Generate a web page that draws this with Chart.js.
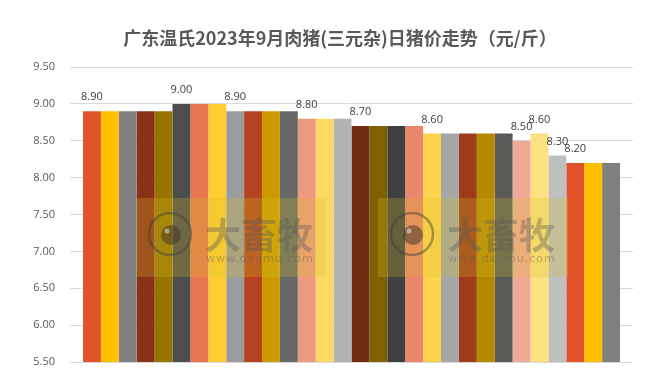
<!DOCTYPE html>
<html>
<head>
<meta charset="utf-8">
<script src="https://cdn.jsdelivr.net/npm/chart.js@4.4.0/dist/chart.umd.min.js"></script>
<style>
html,body{margin:0;padding:0;background:#fff;}
#wrap{width:655px;height:384px;position:relative;}
</style>
</head>
<body>
<div id="wrap"><canvas id="c" width="655" height="384"></canvas></div>
<script>
const titleText = '广东温氏2023年9月肉猪(三元杂)日猪价走势（元/斤）';
const days = ['1日','2日','3日','4日','5日','6日','7日','8日','9日','10日','11日','12日','13日','14日','15日','16日','17日','18日','19日','20日','21日','22日','23日','24日','25日','26日','27日','28日','29日','30日'];
const prices = [8.90,8.90,8.90,8.90,8.90,9.00,9.00,9.00,8.90,8.90,8.90,8.90,8.80,8.80,8.80,8.70,8.70,8.70,8.70,8.60,8.60,8.60,8.60,8.60,8.50,8.60,8.30,8.20,8.20,8.20];
const yTicks = [5.50,6.00,6.50,7.00,7.50,8.00,8.50,9.00,9.50];
const barColors = [
  '#E0542A','#FFC000','#808080',
  '#8A3218','#997300','#4D4D4D',
  '#E87651','#FFCC33','#9C9C9C',
  '#B5431F','#CC9A00','#686868',
  '#EE9A7F','#FFD966','#B3B3B3',
  '#712B15','#806000','#404040',
  '#EA866A','#FFD34D','#A6A6A6',
  '#9E3B1A','#B68800','#5A5A5A',
  '#EFA994','#FFE080','#BFBFBF',
  '#E0542A','#FFC000','#808080'
];

const datasets = days.map((d, i) => ({
  label: d,
  data: [prices[i]],
  backgroundColor: barColors[i],
  borderWidth: 0,
  categoryPercentage: 537/563,
  barPercentage: 1.0
}));

const titlePlugin = {
  id: 'titleP',
  afterDraw(chart) {
    const ctx = chart.ctx;
    ctx.save();
    ctx.font = 'bold 18px "Noto Sans CJK SC"';
    ctx.fillStyle = '#595959';
    ctx.textAlign = 'center';
    ctx.textBaseline = 'middle';
    ctx.fillText(titleText, 340, 38);
    ctx.restore();
  }
};

const watermarkPlugin = {
  id: 'wm',
  afterDatasetsDraw(chart) {
    const ctx = chart.ctx;
    [0, 242].forEach(dx => {
      ctx.save();
      ctx.fillStyle = 'rgba(215,190,40,0.25)';
      ctx.fillRect(136 + dx, 198, 190, 79);
      // logo circle
      ctx.beginPath();
      ctx.arc(170 + dx, 234, 21, 0, Math.PI * 2);
      ctx.strokeStyle = 'rgba(60,60,60,0.45)';
      ctx.lineWidth = 2.5;
      ctx.stroke();
      ctx.beginPath();
      ctx.arc(171 + dx, 235, 10, 0, Math.PI * 2);
      ctx.fillStyle = 'rgba(60,50,40,0.5)';
      ctx.fill();
      ctx.beginPath();
      ctx.arc(167 + dx, 231, 2.5, 0, Math.PI * 2);
      ctx.fillStyle = 'rgba(255,255,255,0.45)';
      ctx.fill();
      // text
      ctx.fillStyle = 'rgba(90,90,90,0.38)';
      ctx.font = 'bold 36px "Noto Sans CJK SC"';
      ctx.textAlign = 'left';
      ctx.textBaseline = 'middle';
      ctx.fillText('大畜牧', 205 + dx, 235);
      ctx.font = '11px "DejaVu Sans"';
      ctx.letterSpacing = '1px';
      ctx.fillText('www.dxumu.com', 206 + dx, 259);
      ctx.restore();
    });
  }
};

const labelPlugin = {
  id: 'labels',
  afterDraw(chart) {
    const ctx = chart.ctx;
    ctx.save();
    ctx.font = '11px "Open Sans"';
    ctx.fillStyle = '#404040';
    ctx.textAlign = 'center';
    ctx.textBaseline = 'middle';
    prices.forEach((v, i) => {
      if (i === 0 || v !== prices[i - 1]) {
        const el = chart.getDatasetMeta(i).data[0];
        ctx.fillText(v.toFixed(2), el.x, el.y - 14);
      }
    });
    ctx.restore();
  }
};

new Chart(document.getElementById('c'), {
  type: 'bar',
  data: { labels: ['2023年9月'], datasets },
  options: {
    responsive: false,
    animation: false,
    devicePixelRatio: 1,
    layout: { padding: { left: 0, right: 22, top: 67, bottom: 22 } },
    plugins: { legend: { display: false }, tooltip: { enabled: false }, title: { display: false } },
    scales: {
      x: { display: false, offset: true },
      y: {
        min: 5.5, max: 9.5,
        afterFit(scale) { scale.width = 70; },
        afterBuildTicks(scale) { scale.ticks = yTicks.map(v => ({ value: v })); },
        border: { display: false },
        grid: { color: '#D9D9D9', lineWidth: 1, drawTicks: false },
        ticks: {
          padding: 15,
          color: '#595959',
          font: { family: '"Open Sans"', size: 11 },
          callback: v => Number(v).toFixed(2)
        }
      }
    }
  },
  plugins: [watermarkPlugin, labelPlugin, titlePlugin]
});
</script>
</body>
</html>
